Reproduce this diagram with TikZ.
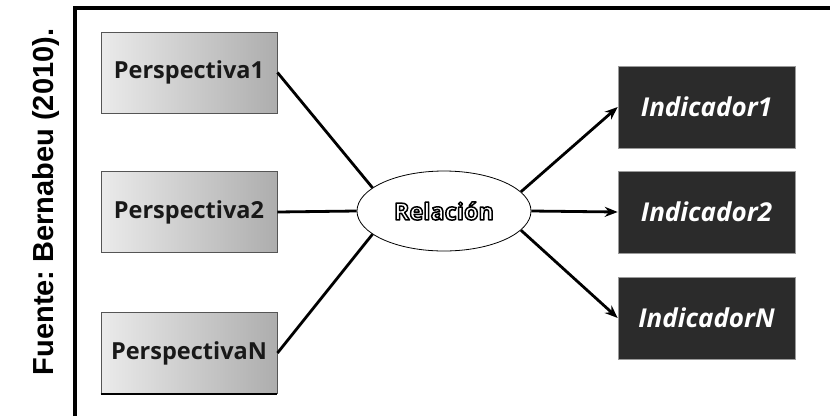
\documentclass[tikz,border=0pt]{standalone}
\usepackage{fontspec}
\setmainfont{Liberation Sans}
\newfontfamily\boxfont{Open Sans}
\usetikzlibrary{shapes.geometric,arrows.meta}
\frenchspacing
\definecolor{boxedge}{HTML}{555555}
\definecolor{darkfill}{HTML}{2B2B2B}
\definecolor{darkedge}{HTML}{9A9A9A}
% outlined lettering: white fill, black stroke (text render mode 2)
\newcommand{\outlinedtext}[1]{\special{pdf:code 0 G 1.5 w 1 j 2 Tr}#1\special{pdf:code 0 Tr}}
\tikzset{
  persp/.style={rectangle, minimum width=176pt, minimum height=81pt, draw=boxedge, line width=0.9pt,
    left color=gray!16, right color=gray!64, font=\boxfont\bfseries\fontsize{23.5}{26}\selectfont, text=black!90},
  indic/.style={rectangle, minimum width=177pt, minimum height=82pt, fill=darkfill, draw=darkedge, line width=0.5pt,
    font=\boxfont\bfseries\itshape\fontsize{26}{28}\selectfont, text=white},
  rel/.style={ellipse, minimum width=174pt, minimum height=80pt, draw=black, line width=0.8pt, fill=white,
    font=\boxfont\bfseries\fontsize{23.5}{26}\selectfont, text=white},
  link/.style={line width=2.8pt, black},
  arrowlink/.style={link, -{Stealth[length=13pt,width=10pt]}}
}
\begin{document}
\begin{tikzpicture}[x=1pt,y=-1pt]
  \useasboundingbox (0,0) rectangle (830,416);
  \fill[white] (0,0) rectangle (830,416);
  % open frame around the diagram
  \draw[line width=4pt] (75,416) -- (75,8) -- (830,8);
  % source note
  \node[rotate=90, font=\bfseries\fontsize{29}{32}\selectfont] (src) at (46,202) {Fuente: Bernabeu (2010).};

  % perspectives
  \node[persp] (p1) at (189,72.5) {Perspectiva1};
  \node[persp] (p2) at (189,212) {Perspectiva2};
  \node[persp] (pn) at (189,353) {PerspectivaN};
  \draw[line width=2.2pt] (pn.south west) -- (pn.south east);

  % indicators
  \node[indic] (i1) at (706.5,107) {Indicador1};
  \node[indic] (i2) at (706.5,212) {Indicador2};
  \node[indic] (in) at (706.5,318) {IndicadorN};

  % central relation
  \node[rel] (e) at (444,211) {\outlinedtext{Relación}};

  % connectors
  \draw[link] (p1.east) -- (e.162);
  \draw[link] (p2.east) -- (e.west);
  \draw[link] (pn.east) -- (e.198);
  \draw[arrowlink] (e.14) -- (i1.west);
  \draw[arrowlink] (e.east) -- (i2.west);
  \draw[arrowlink] (e.-14) -- (in.west);
\end{tikzpicture}
\end{document}
